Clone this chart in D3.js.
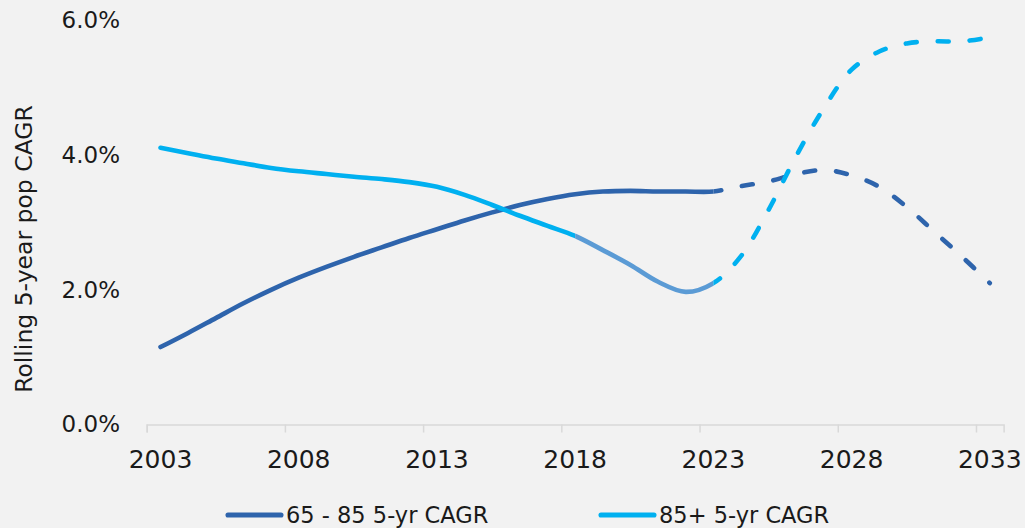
<!DOCTYPE html>
<html>
<head>
<meta charset="utf-8">
<script src="https://cdn.jsdelivr.net/npm/d3@7"></script>
<style>
  html, body { margin: 0; padding: 0; background: #F2F2F2; }
  svg { display: block; }
  text { font-family: "DejaVu Sans", sans-serif; fill: #1a1a1a; }
</style>
</head>
<body>
<svg id="chart" width="1025" height="528"></svg>
<script>
// ---- Data ----
const years = [2003,2004,2005,2006,2007,2008,2009,2010,2011,2012,2013,2014,2015,2016,2017,2018,2019,2020,2021,2022,2023,2024,2025,2026,2027,2028,2029,2030,2031,2032,2033];
const cagr6585 = [1.15,1.36,1.58,1.80,2.00,2.18,2.34,2.49,2.63,2.77,2.90,3.03,3.15,3.26,3.35,3.42,3.46,3.47,3.46,3.46,3.46,3.54,3.61,3.72,3.78,3.70,3.53,3.23,2.86,2.49,2.10];
const cagr85 = [4.11,4.03,3.95,3.88,3.81,3.76,3.72,3.68,3.645,3.60,3.53,3.41,3.26,3.10,2.95,2.80,2.59,2.37,2.12,1.97,2.10,2.50,3.19,3.99,4.70,5.27,5.54,5.66,5.69,5.69,5.75];
const xTickYears = [2003,2008,2013,2018,2023,2028,2033];
const yTickValues = [0,2,4,6];
const seriesNames = ["65 - 85 5-yr CAGR", "85+ 5-yr CAGR"];
const forecastStart = 2023;
const highlightStart = 2018;

// ---- Styles ----
const darkBlue = "#2E64AC";
const lightBlue = "#00B0F0";
const midBlue = "#5B9BD5";
const lw = 4.6;
const dash = "11,21";

const svg = d3.select("#chart");
const x = d3.scaleLinear().domain([2003, 2034]).range([146.7, 1003.6]);
const y = d3.scaleLinear().domain([0, 6]).range([424.5, 20.5]);
const xp = yr => x(yr + 0.5);

// x axis
const xAxis = d3.axisBottom(x).tickValues(xTickYears).tickSize(8).tickFormat("");
const gx = svg.append("g").attr("transform", `translate(0,${y(0)})`).call(xAxis);
gx.select(".domain").attr("stroke", "#D9D9D9").attr("stroke-width", 1.5);
gx.selectAll(".tick line").attr("stroke", "#D9D9D9").attr("stroke-width", 1.5);
svg.append("g").selectAll("text").data(xTickYears).join("text")
  .attr("x", d => xp(d)).attr("y", 468)
  .attr("text-anchor", "middle").attr("font-size", 25)
  .text(d => d);

// y axis labels
const yAxis = d3.axisLeft(y).tickValues(yTickValues).tickSize(0).tickFormat(d => d.toFixed(1) + "%");
const gy = svg.append("g").attr("transform", "translate(120,0)").call(yAxis);
gy.select(".domain").remove();
gy.selectAll(".tick text").attr("x", 0).attr("font-size", 23)
  .attr("font-family", "DejaVu Sans").attr("fill", "#1a1a1a");

// y title
svg.append("text")
  .attr("transform", "translate(32,249) rotate(-90)")
  .attr("text-anchor", "middle").attr("font-size", 23.5)
  .text("Rolling 5-year pop CAGR");

// clip paths
const defs = svg.append("defs");
function clip(id, x0, x1) {
  defs.append("clipPath").attr("id", id).append("rect")
    .attr("x", x0).attr("y", -50).attr("width", x1 - x0).attr("height", 700);
}
clip("cHist", 0, xp(highlightStart));
clip("cMid", xp(highlightStart), xp(forecastStart));
clip("cHistAll", 0, xp(forecastStart));
clip("cFc", xp(forecastStart), 1100);

const line = d3.line().x((d, i) => xp(years[i])).y(d => y(d)).curve(d3.curveCatmullRom.alpha(0.5));

function lengthAtX(pathNode, tx) {
  let lo = 0, hi = pathNode.getTotalLength();
  for (let k = 0; k < 40; k++) {
    const mid = (lo + hi) / 2;
    if (pathNode.getPointAtLength(mid).x < tx) lo = mid; else hi = mid;
  }
  return lo;
}

function drawSeries(vals, color, midColor) {
  const d = line(vals);
  if (midColor) {
    svg.append("path").attr("d", d).attr("fill", "none").attr("stroke", color)
      .attr("stroke-width", lw).attr("stroke-linecap", "round").attr("clip-path", "url(#cHist)");
    svg.append("path").attr("d", d).attr("fill", "none").attr("stroke", midColor)
      .attr("stroke-width", lw).attr("clip-path", "url(#cMid)");
  } else {
    svg.append("path").attr("d", d).attr("fill", "none").attr("stroke", color)
      .attr("stroke-width", lw).attr("stroke-linecap", "round").attr("clip-path", "url(#cHistAll)");
  }
  const fc = svg.append("path").attr("d", d).attr("fill", "none").attr("stroke", color)
    .attr("stroke-width", lw).attr("stroke-linecap", "round")
    .attr("stroke-dasharray", dash).attr("clip-path", "url(#cFc)");
  const L = lengthAtX(fc.node(), xp(forecastStart));
  fc.attr("stroke-dashoffset", -L + 3);
}

drawSeries(cagr6585, darkBlue, null);
drawSeries(cagr85, lightBlue, midBlue);

// legend
const legend = [
  { name: seriesNames[0], color: darkBlue, x0: 228 },
  { name: seriesNames[1], color: lightBlue, x0: 601 }
];
const lg = svg.append("g").selectAll("g").data(legend).join("g");
lg.append("line").attr("x1", d => d.x0).attr("x2", d => d.x0 + 53)
  .attr("y1", 515).attr("y2", 515).attr("stroke", d => d.color)
  .attr("stroke-width", lw + 0.5).attr("stroke-linecap", "round");
lg.append("text").attr("x", d => d.x0 + 58).attr("y", 523)
  .attr("font-size", 22.5).text(d => d.name);
</script>
</body>
</html>
